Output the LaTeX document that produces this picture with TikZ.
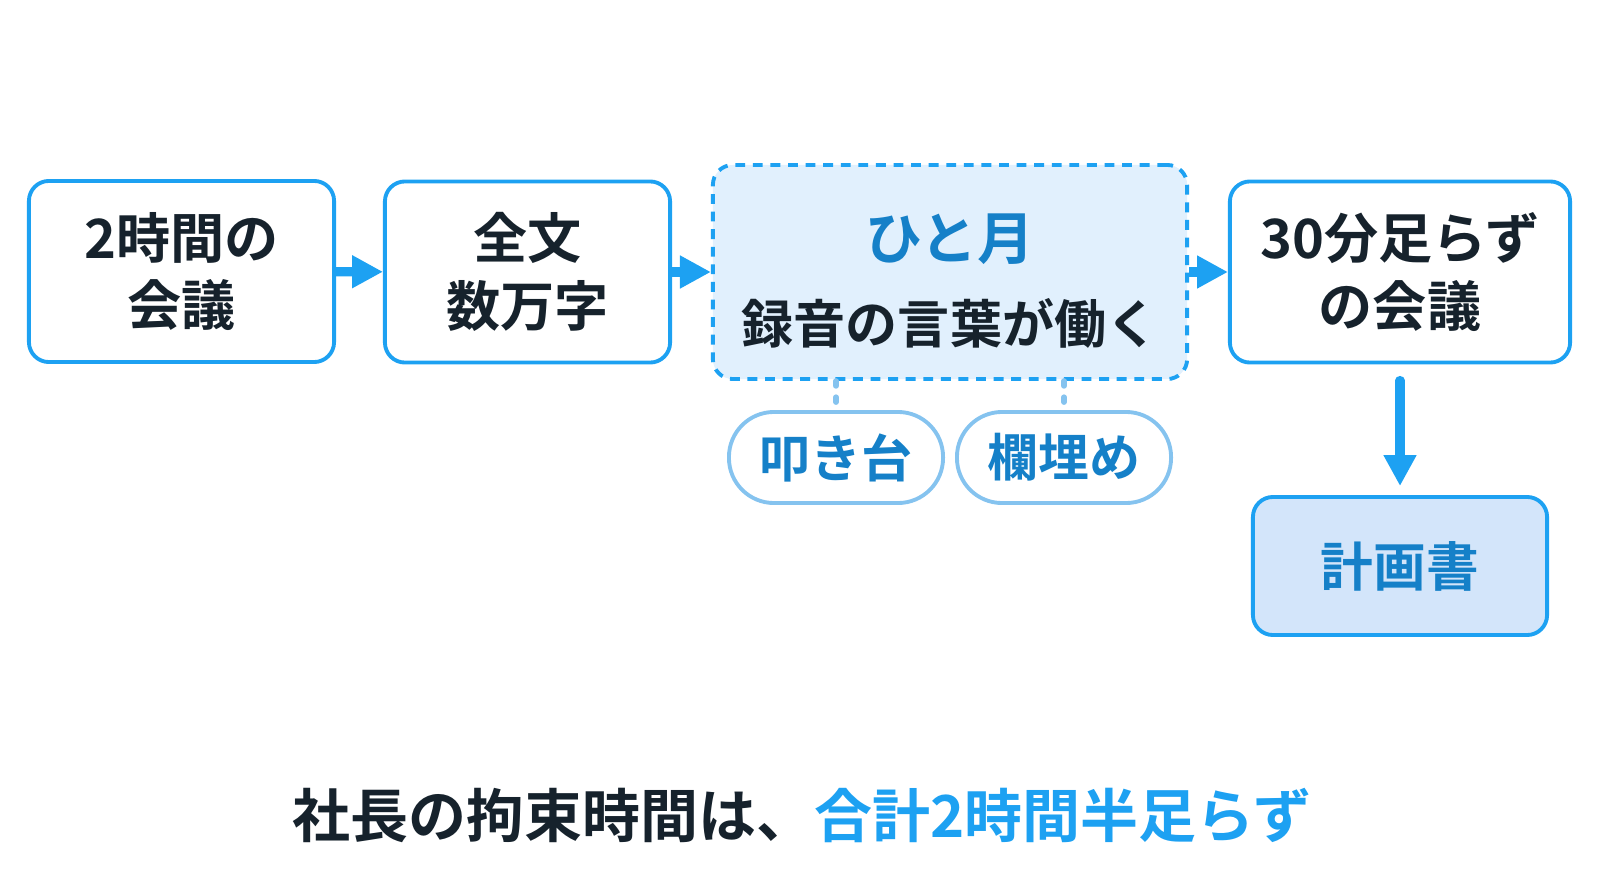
\documentclass[tikz,border=0pt]{standalone}
\usepackage{fontspec}
\setmainfont{Noto Sans CJK JP}[BoldFont={Noto Sans CJK JP Bold}]
\usetikzlibrary{arrows.meta}
\definecolor{lineblue}{HTML}{1DA1F2}
\definecolor{softblue}{HTML}{85C3EF}
\definecolor{deepblue}{HTML}{1580C8}
\definecolor{inkdark}{HTML}{16222C}
\definecolor{paleblue}{HTML}{E1F0FD}
\definecolor{planblue}{HTML}{D3E5FA}

\begin{document}
\begin{tikzpicture}[
        x=0.01cm, y=-0.01cm,
        block/.style={rectangle, draw=lineblue, line width=1.1pt, rounded corners=0.2cm, minimum height=1.81cm, inner sep=0pt, align=center, text=inkdark, font=\fontsize{15.4}{19.3}\selectfont\bfseries},
        tag/.style={rectangle, draw=softblue, line width=1.1pt, rounded corners=0.45cm, minimum width=2.14cm, minimum height=0.91cm, inner sep=0pt, text=deepblue, font=\fontsize{14.5}{17}\selectfont\bfseries},
        arrow/.style={-{Triangle[length=8.8pt, width=8.8pt]}, draw=lineblue, line width=2.6pt},
        link/.style={draw=softblue, line width=1.6pt, dash pattern=on 1.4pt off 3.2pt, line cap=round}
    ]
        \useasboundingbox (0,0) rectangle (1600,894);

        % Meeting
        \node[block, minimum width=3.05cm] (meet) at (181.5,271.5) {2時間の\\会議};

        % Transcript
        \node[block, minimum width=2.85cm] (full) at (527.5,272) {全文\\数万字};

        % One month
        \node[block, fill=paleblue, dash pattern=on 2.8pt off 2.2pt, minimum width=4.74cm, minimum height=2.14cm, font=\fontsize{14.8}{23.9}\selectfont\bfseries] (month) at (950,272)
            {\rule{0pt}{18pt}{\fontsize{16.2}{23.9}\selectfont\color{deepblue}ひと月}\\録音の言葉が働く};
        \node[tag] (draft) at (836,457.5) {叩き台};
        \node[tag] (fill) at (1064,457.5) {欄埋め};

        % Short meeting
        \node[block, minimum width=3.4cm] (short) at (1400,272) {30分足らず\\の会議};
        \node[block, fill=planblue, text=deepblue, minimum width=2.94cm, minimum height=1.38cm, font=\fontsize{15}{18}\selectfont\bfseries] (plan) at (1400,566) {計画書};

        % Summary
        \node[font=\fontsize{16.5}{20}\selectfont\bfseries, text=inkdark] (total) at (802,815)
            {社長の拘束時間は、\textcolor{lineblue}{合計2時間半足らず}};

        \draw[arrow] (meet) -- (full);
        \draw[arrow] (full) -- (month);
        \draw[arrow] (month) -- (short);
        \draw[arrow, line cap=round, shorten <=0.16cm, shorten >=0.09cm] (short) -- (plan);
        \draw[link] (month.south -| draft.north) -- (draft.north);
        \draw[link] (month.south -| fill.north) -- (fill.north);
    \end{tikzpicture}
\end{document}
